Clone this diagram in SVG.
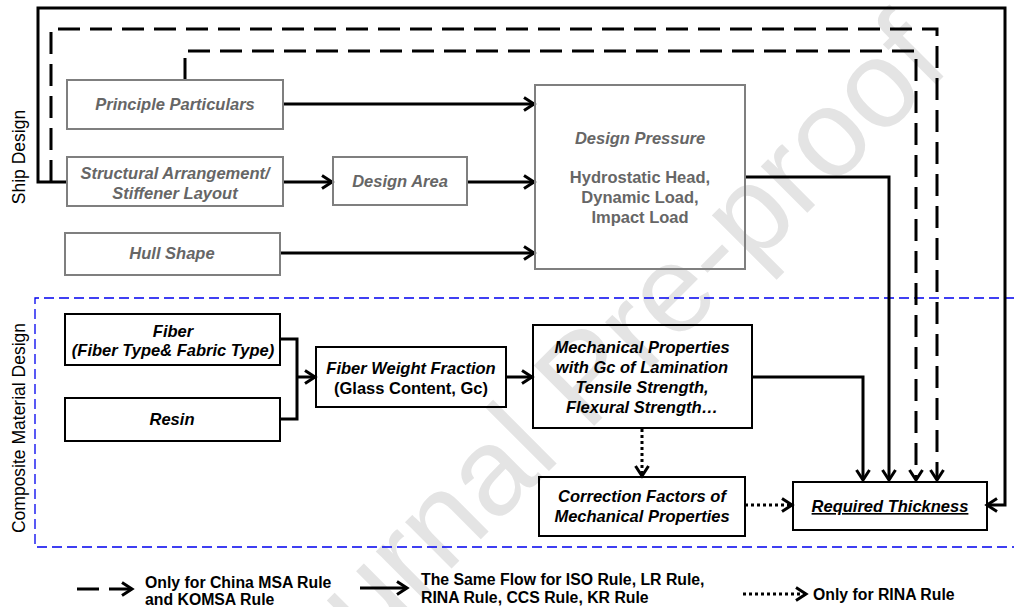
<svg xmlns="http://www.w3.org/2000/svg" width="1014" height="607" viewBox="0 0 1014 607">
  <style>
    .gbox { fill: none; stroke: #7f7f7f; stroke-width: 2; }
    .bbox { fill: none; stroke: #000; stroke-width: 2; }
    .t { font-family: "Liberation Sans", Arial, sans-serif; font-weight: bold; font-size: 16.5px; text-anchor: middle; }
    .it { font-style: italic; }
    .gray { fill: #666; }
    .blk { fill: #000; }
    .ln { fill: none; stroke: #000; stroke-width: 3; }
    .dash { stroke-dasharray: 22 10; }
    .dot { stroke-dasharray: 3 3; }
    .side { font-family: "Liberation Sans", Arial, sans-serif; font-size: 17.5px; fill: #000; text-anchor: middle; }
    .leg { font-family: "Liberation Sans", Arial, sans-serif; font-weight: bold; font-size: 15.8px; fill: #000; }
    .region { fill: none; stroke: #0000ee; stroke-width: 1.3; stroke-dasharray: 10 5; }
  </style>
  <defs>
    <marker id="arr" markerUnits="userSpaceOnUse" markerWidth="16" markerHeight="18" refX="13" refY="9" orient="auto">
      <path d="M3,2.5 L13,9 L3,15.5" fill="none" stroke="#000" stroke-width="3"/>
    </marker>
  </defs>

  <rect width="1014" height="607" fill="#fff"/>

  <!-- watermark -->
  <text transform="translate(275,745) rotate(-45)" font-family="Liberation Sans, Arial, sans-serif" font-size="124" fill="#e4e4e4">Journal Pre-proof</text>

  <!-- region labels and frame -->
  <text class="side" transform="translate(25,157) rotate(-90)">Ship Design</text>
  <text class="side" transform="translate(25,428) rotate(-90)">Composite Material Design</text>
  <path class="region" d="M1014,298 H35 V547 H1014"/>

  <g id="connectors">
    <path class="ln" d="M67,182 H38 V8 H1005 V505 H987" marker-end="url(#arr)"/>
    <path class="ln dash" d="M51,182 V29 H937 V480" marker-end="url(#arr)"/>
    <path class="ln dash" d="M185,80 V51 H916 V480" marker-end="url(#arr)"/>
    <path class="ln" d="M745,177 H889 V480" marker-end="url(#arr)"/>
    <path class="ln" d="M752,377 H863 V480" marker-end="url(#arr)"/>
    <path class="ln dot" d="M745,505 H792" marker-end="url(#arr)"/>
    <path class="ln dot" d="M642,429 V476" marker-end="url(#arr)"/>
    <path class="ln" d="M283,104 H534" marker-end="url(#arr)"/>
    <path class="ln" d="M283,182 H332" marker-end="url(#arr)"/>
    <path class="ln" d="M467,182 H534" marker-end="url(#arr)"/>
    <path class="ln" d="M280,253 H534" marker-end="url(#arr)"/>
    <path class="ln" d="M280,339 H297 V419 H280"/>
    <path class="ln" d="M297,377 H315" marker-end="url(#arr)"/>
    <path class="ln" d="M506,377 H532" marker-end="url(#arr)"/>
  </g>

  <g id="principle-particulars">
    <rect class="gbox" x="67" y="80" width="216" height="49"/>
    <text class="t it gray" x="175" y="110">Principle Particulars</text>
  </g>
  <g id="structural-arrangement">
    <rect class="gbox" x="67" y="157" width="216" height="49"/>
    <text class="t it gray" x="175" y="179">Structural Arrangement/</text>
    <text class="t it gray" x="175" y="199">Stiffener Layout</text>
  </g>
  <g id="hull-shape">
    <rect class="gbox" x="65" y="233" width="215" height="42"/>
    <text class="t it gray" x="172" y="259">Hull Shape</text>
  </g>
  <g id="design-area">
    <rect class="gbox" x="333" y="157" width="134" height="48"/>
    <text class="t it gray" x="400" y="187">Design Area</text>
  </g>
  <g id="design-pressure">
    <rect class="gbox" x="535" y="85" width="210" height="184"/>
    <text class="t it gray" x="640" y="144">Design Pressure</text>
    <text class="t gray" x="640" y="183">Hydrostatic Head,</text>
    <text class="t gray" x="640" y="203">Dynamic Load,</text>
    <text class="t gray" x="640" y="223">Impact Load</text>
  </g>

  <g id="fiber">
    <rect class="bbox" x="65" y="314" width="215" height="51"/>
    <text class="t it blk" x="173" y="337">Fiber</text>
    <text class="t it blk" x="173" y="356" font-size="14">(Fiber Type&amp; Fabric Type)</text>
  </g>
  <g id="resin">
    <rect class="bbox" x="65" y="398" width="215" height="43"/>
    <text class="t it blk" x="172" y="425">Resin</text>
  </g>
  <g id="fiber-weight-fraction">
    <rect class="bbox" x="316" y="347" width="190" height="60"/>
    <text class="t it blk" x="411" y="374">Fiber Weight Fraction</text>
    <text class="t blk" x="411" y="394">(Glass Content, Gc)</text>
  </g>
  <g id="mechanical-properties">
    <rect class="bbox" x="533" y="325" width="219" height="103"/>
    <text class="t it blk" x="642" y="353">Mechanical Properties</text>
    <text class="t it blk" x="642" y="373">with Gc of Lamination</text>
    <text class="t it blk" x="642" y="393">Tensile Strength,</text>
    <text class="t it blk" x="642" y="413">Flexural Strength…</text>
  </g>
  <g id="correction-factors">
    <rect class="bbox" x="539" y="477" width="206" height="59"/>
    <text class="t it blk" x="642" y="502">Correction Factors of</text>
    <text class="t it blk" x="642" y="522">Mechanical Properties</text>
  </g>
  <g id="required-thickness">
    <rect class="bbox" x="793" y="482" width="194" height="48"/>
    <text class="t it blk" x="890" y="512" font-size="18" text-decoration="underline">Required Thickness</text>
  </g>

  <g id="legend">
    <path class="ln" d="M77,589 H99 M109,589 H132" marker-end="url(#arr)"/>
    <text class="leg" x="145" y="588">Only for China MSA Rule</text>
    <text class="leg" x="145" y="605">and KOMSA Rule</text>
    <path class="ln" d="M360,588 H407" marker-end="url(#arr)"/>
    <text class="leg" x="421" y="585">The Same Flow for ISO Rule, LR Rule,</text>
    <text class="leg" x="421" y="603">RINA Rule, CCS Rule, KR Rule</text>
    <path class="ln dot" d="M743,594 H806" marker-end="url(#arr)"/>
    <text class="leg" x="813" y="600">Only for RINA Rule</text>
  </g>
</svg>
